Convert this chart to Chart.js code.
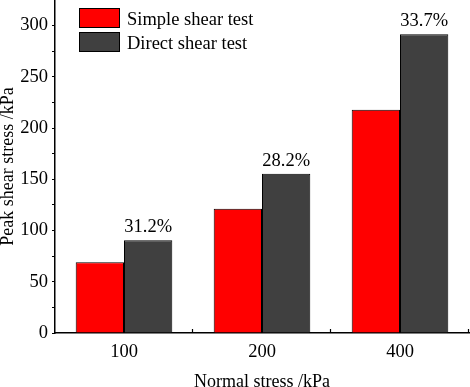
<!DOCTYPE html>
<html>
<head>
<meta charset="utf-8">
<script src="https://cdn.jsdelivr.net/npm/chart.js@4/dist/chart.umd.min.js"></script>
<style>
  html, body { margin: 0; padding: 0; background: #fff; }
  #wrap { width: 470px; height: 387px; }
</style>
</head>
<body>
<div id="wrap"><canvas id="chart" width="470" height="387"></canvas></div>
<script>
// Data
const stressLevels = ["100", "200", "400"];
const simpleShear = [69, 121.3, 218];
const directShear = [90.5, 155.5, 291.5];
const increaseLabels = ["31.2%", "28.2%", "33.7%"];
const seriesNames = ["Simple shear test", "Direct shear test"];

const FONT = "'Liberation Serif', 'Times New Roman', serif";
const FS = 18.5;

// Legend drawn inside the plot area, top-left
const insideLegend = {
    id: "insideLegend",
    afterDraw(chart) {
        const ctx = chart.ctx;
        const area = chart.chartArea;
        ctx.save();
        ctx.font = FS + "px " + FONT;
        ctx.textBaseline = "alphabetic";
        chart.data.datasets.forEach((ds, i) => {
            const x = area.left + 24;
            const y = area.top + 8 + i * 24;
            ctx.fillStyle = ds.backgroundColor;
            ctx.fillRect(x, y, 41, 20);
            ctx.strokeStyle = "#000";
            ctx.lineWidth = 1;
            ctx.strokeRect(x + 0.5, y + 0.5, 40, 19);
            ctx.fillStyle = "#000";
            ctx.fillText(ds.label, x + 48, y + 17);
        });
        ctx.restore();
    }
};

// Percent increase above the direct shear bars
const barNotes = {
    id: "barNotes",
    afterDatasetsDraw(chart) {
        const ctx = chart.ctx;
        const meta = chart.getDatasetMeta(1);
        ctx.save();
        ctx.font = FS + "px " + FONT;
        ctx.fillStyle = "#000";
        ctx.textAlign = "center";
        ctx.textBaseline = "alphabetic";
        meta.data.forEach((bar, i) => {
            ctx.fillText(increaseLabels[i], bar.x, bar.y - 8);
        });
        ctx.restore();
    }
};

// Small inward ticks between categories on the x axis
const xInnerTicks = {
    id: "xInnerTicks",
    afterDraw(chart) {
        const ctx = chart.ctx;
        const sx = chart.scales.x;
        const n = stressLevels.length;
        ctx.save();
        ctx.strokeStyle = "#000";
        ctx.lineWidth = 1.2;
        for (let k = 1; k <= n; k++) {
            const x = Math.round(sx.left + k * sx.width / n) - 0.5;
            ctx.beginPath();
            ctx.moveTo(x, sx.top);
            ctx.lineTo(x, sx.top - 4);
            ctx.stroke();
        }
        ctx.restore();
    }
};

new Chart(document.getElementById("chart").getContext("2d"), {
    type: "bar",
    data: {
        labels: stressLevels,
        datasets: [
            {
                label: seriesNames[0],
                data: simpleShear,
                backgroundColor: "#ff0000",
                borderColor: "#000",
                borderWidth: 1,
                categoryPercentage: 0.7,
                barPercentage: 1
            },
            {
                label: seriesNames[1],
                data: directShear,
                backgroundColor: "#404040",
                borderColor: "#000",
                borderWidth: 1,
                categoryPercentage: 0.7,
                barPercentage: 1
            }
        ]
    },
    options: {
        responsive: false,
        animation: false,
        layout: { padding: { top: 0, right: 1, left: 0, bottom: 0 } },
        plugins: {
            legend: { display: false },
            tooltip: { enabled: false }
        },
        scales: {
            x: {
                grid: { display: false, drawTicks: false, offset: true },
                border: { color: "#000", width: 1.5 },
                ticks: { color: "#000", font: { family: FONT, size: FS }, padding: 8 },
                title: {
                    display: true,
                    text: "Normal stress /kPa",
                    color: "#000",
                    font: { family: FONT, size: 18 },
                    padding: { top: 0, bottom: -6 }
                },
                afterFit(scale) { scale.height = 54; }
            },
            y: {
                min: 0,
                max: 325,
                grid: { drawOnChartArea: false, tickLength: 3, color: "#000", tickWidth: 1.2 },
                border: { color: "#000", width: 1.5 },
                ticks: {
                    stepSize: 25,
                    autoSkip: false,
                    color: "#000",
                    font: { family: FONT, size: FS },
                    padding: 4,
                    callback: v => (v % 50 === 0 ? v : "")
                },
                afterBuildTicks(scale) {
                    scale.ticks = scale.ticks.filter(t => t.value <= 300);
                },
                title: {
                    display: true,
                    text: "Peak shear stress /kPa",
                    color: "#000",
                    font: { family: FONT, size: 18 },
                    padding: { top: -3, bottom: 0 }
                },
                afterFit(scale) {
                    scale.width = 55;
                    scale.paddingTop = 0;
                    scale.paddingBottom = 0;
                }
            }
        }
    },
    plugins: [insideLegend, barNotes, xInnerTicks]
});
</script>
</body>
</html>
